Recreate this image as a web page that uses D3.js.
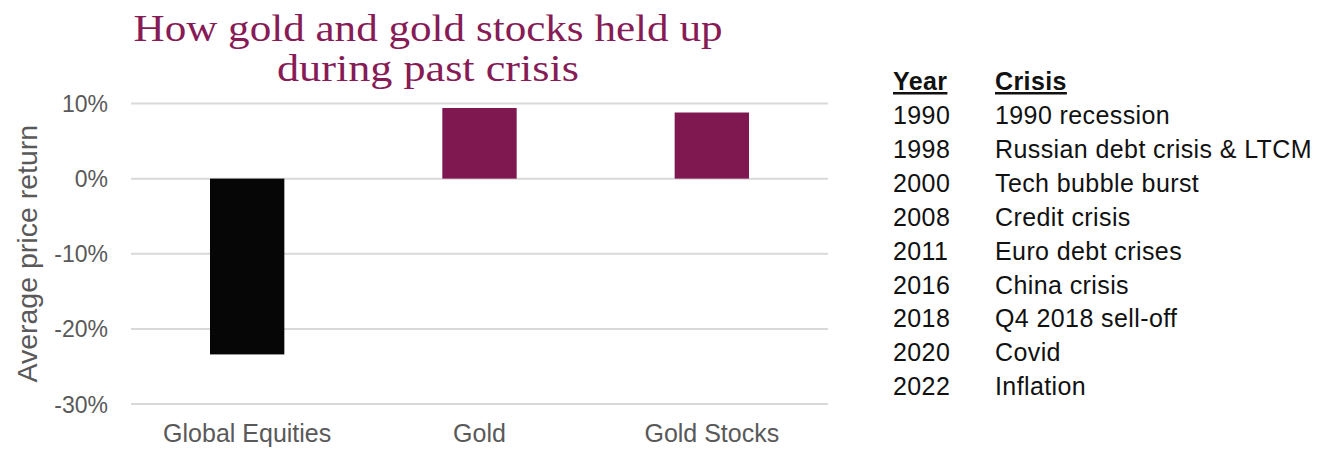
<!DOCTYPE html>
<html>
<head>
<meta charset="utf-8">
<script src="https://cdn.jsdelivr.net/npm/d3@7"></script>
<style>
  body { margin: 0; background: #fff; }
  svg { display: block; }
</style>
</head>
<body>
<script>
// data
const categories = ['Global Equities', 'Gold', 'Gold Stocks'];
const avgReturn = [-0.234, 0.094, 0.088];
const barColors = ['#060606', '#7f1751', '#7f1751'];
const yTicks = [0.1, 0, -0.1, -0.2, -0.3];
const years = ['1990', '1998', '2000', '2008', '2011', '2016', '2018', '2020', '2022'];
const crises = ['1990 recession', 'Russian debt crisis & LTCM', 'Tech bubble burst', 'Credit crisis',
  'Euro debt crises', 'China crisis', 'Q4 2018 sell-off', 'Covid', 'Inflation'];
const titleLines = ['How gold and gold stocks held up', 'during past crisis'];
const titleWidths = [589, 302];

const [w, h] = [1326, 449];
const grey = '#595959';
const sans = 'Liberation Sans, Arial, sans-serif';

const svg = d3.select('body').append('svg')
  .attr('width', w)
  .attr('height', h);

// scales
const x = d3.scaleBand()
  .domain(categories)
  .range([131, 828])
  .paddingInner(0.68)
  .paddingOuter(0.34);

const y = d3.scaleLinear()
  .domain([-0.3, 0.1])
  .range([404, 103.5]);

// gridlines
svg.append('g')
  .selectAll('line')
  .data(yTicks)
  .join('line')
  .attr('x1', 131)
  .attr('x2', 828)
  .attr('y1', d => y(d))
  .attr('y2', d => y(d))
  .attr('stroke', '#d9d9d9')
  .attr('stroke-width', 2);

// y axis labels
const yAxis = d3.axisLeft(y)
  .tickValues(yTicks)
  .tickSize(0)
  .tickPadding(0);

svg.append('g')
  .attr('transform', 'translate(108,0)')
  .call(yAxis)
  .call(g => g.select('.domain').remove())
  .selectAll('text')
  .attr('fill', grey)
  .attr('font-family', sans)
  .attr('font-size', '23px')
  .attr('dy', '0.35em')
  .text(d => Math.round(d * 100) + '%');

// bars
svg.append('g')
  .selectAll('rect')
  .data(categories)
  .join('rect')
  .attr('x', d => x(d))
  .attr('width', x.bandwidth())
  .attr('y', (d, i) => y(Math.max(0, avgReturn[i])))
  .attr('height', (d, i) => Math.abs(y(avgReturn[i]) - y(0)))
  .attr('fill', (d, i) => barColors[i]);

// x axis labels
const xAxis = d3.axisBottom(x).tickSize(0).tickPadding(0);
svg.append('g')
  .attr('transform', 'translate(0,442)')
  .call(xAxis)
  .call(g => g.select('.domain').remove())
  .selectAll('text')
  .attr('fill', grey)
  .attr('font-family', sans)
  .attr('font-size', '25px')
  .attr('y', 0)
  .attr('dy', 0);

// y axis title
svg.append('text')
  .attr('transform', `translate(37,${(y(0.1) + y(-0.3)) / 2}) rotate(-90)`)
  .attr('text-anchor', 'middle')
  .attr('fill', grey)
  .attr('font-family', sans)
  .attr('font-size', '28.5px')
  .text('Average price return');

// title, stretched to the width it has in the picture
svg.append('g')
  .selectAll('text')
  .data(titleLines)
  .join('text')
  .attr('x', (d, i) => 428 - titleWidths[i] / 2)
  .attr('y', (d, i) => 41 + i * 40)
  .attr('fill', '#861b56')
  .attr('font-family', 'Liberation Serif, Times New Roman, serif')
  .attr('font-size', '37px')
  .attr('textLength', (d, i) => titleWidths[i])
  .attr('lengthAdjust', 'spacingAndGlyphs')
  .text(d => d);

// crisis table
const table = svg.append('g')
  .attr('font-family', sans)
  .attr('font-size', '25px')
  .attr('letter-spacing', '0.4px')
  .attr('fill', '#111');

table.append('text')
  .attr('x', 893).attr('y', 90)
  .attr('font-weight', 'bold')
  .style('text-decoration', 'underline')
  .text('Year');

table.append('text')
  .attr('x', 995).attr('y', 90)
  .attr('font-weight', 'bold')
  .style('text-decoration', 'underline')
  .text('Crisis');

table.selectAll('.yr')
  .data(years)
  .join('text')
  .attr('class', 'yr')
  .attr('x', 893)
  .attr('y', (d, i) => 124 + i * 33.9)
  .text(d => d);

table.selectAll('.cr')
  .data(crises)
  .join('text')
  .attr('class', 'cr')
  .attr('x', 995)
  .attr('y', (d, i) => 124 + i * 33.9)
  .text(d => d);
</script>
</body>
</html>
